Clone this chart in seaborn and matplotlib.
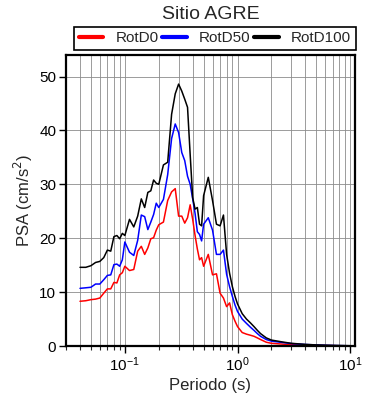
import numpy as np
import pandas as pd
import matplotlib
matplotlib.use("Agg")
import matplotlib.pyplot as plt
import seaborn as sns
from matplotlib.lines import Line2D

# periods (s) and PSA values (cm/s^2)
periodo = [0.04, 0.045, 0.05, 0.055, 0.06, 0.065, 0.07, 0.075, 0.08, 0.085, 0.09, 0.095,
           0.10, 0.11, 0.12, 0.13, 0.14, 0.15, 0.16, 0.17, 0.18, 0.19, 0.20, 0.22, 0.24,
           0.26, 0.28, 0.30, 0.32, 0.34, 0.36, 0.38, 0.40, 0.42, 0.44, 0.46, 0.48, 0.50,
           0.55, 0.60, 0.65, 0.70, 0.75, 0.80, 0.85, 0.90, 0.95, 1.0, 1.1, 1.2, 1.3, 1.4,
           1.5, 1.6, 1.8, 2.0, 2.5, 3.0, 4.0, 5.0, 6.0, 7.5, 10.0]

rotd0 = [8.3, 8.4, 8.6, 8.7, 8.9, 9.8, 10.6, 10.6, 11.8, 11.7, 13.2, 13.6,
         14.8, 14.0, 14.2, 17.6, 18.5, 17.0, 18.2, 19.9, 20.1, 21.5, 22.5, 23.0, 27.0,
         28.6, 29.2, 24.1, 24.1, 22.8, 23.8, 26.2, 23.5, 20.5, 18.0, 16.0, 16.4, 14.8,
         17.0, 13.2, 13.4, 9.8, 8.9, 7.3, 8.0, 5.8, 4.6, 3.6, 2.5, 2.2, 2.0, 1.8,
         1.5, 1.2, 0.7, 0.5, 0.35, 0.25, 0.15, 0.1, 0.08, 0.05, 0.03]

rotd50 = [10.7, 10.8, 10.9, 11.5, 11.5, 12.3, 13.1, 13.2, 15.1, 15.2, 14.8, 16.0,
          19.3, 17.4, 16.8, 19.6, 24.3, 24.0, 21.6, 23.0, 24.4, 26.5, 25.7, 27.2, 31.8,
          38.5, 41.2, 39.6, 35.9, 34.4, 31.5, 30.0, 27.3, 24.6, 21.2, 20.7, 19.5, 22.6,
          23.8, 21.5, 17.0, 17.0, 17.8, 13.3, 11.0, 9.2, 7.6, 6.4, 5.0, 4.2, 3.5, 2.9,
          2.3, 1.8, 1.2, 0.9, 0.65, 0.45, 0.28, 0.2, 0.13, 0.08, 0.04]

rotd100 = [14.6, 14.6, 14.9, 15.5, 15.7, 16.4, 17.8, 17.6, 20.3, 20.5, 19.9, 20.9,
           20.5, 23.5, 22.1, 24.1, 27.3, 25.7, 28.5, 28.8, 30.8, 30.2, 30.0, 33.6, 34.1,
           43.0, 46.8, 48.6, 47.3, 45.8, 44.3, 35.5, 27.5, 25.4, 25.7, 22.6, 22.3, 27.9,
           31.3, 27.0, 22.6, 22.3, 24.3, 17.0, 13.5, 11.0, 9.2, 7.8, 6.0, 5.0, 4.3, 3.6,
           2.9, 2.3, 1.5, 1.1, 0.75, 0.5, 0.3, 0.2, 0.15, 0.1, 0.05]

df = pd.DataFrame({"Periodo": periodo, "RotD0": rotd0, "RotD50": rotd50, "RotD100": rotd100})
long = df.melt(id_vars="Periodo", var_name="comp", value_name="PSA")

sns.set_style("ticks")
plt.rcParams["font.family"] = ["Liberation Sans", "DejaVu Sans"]

fig = plt.figure(figsize=(3.9, 4.0), dpi=100)
ax = fig.add_axes([0.169, 0.135, 0.741, 0.7275])

sns.lineplot(data=long, x="Periodo", y="PSA", hue="comp",
             palette={"RotD0": "red", "RotD50": "blue", "RotD100": "black"},
             linewidth=1.1, ax=ax, legend=False)

ax.set_xscale("log")
ax.set_xlim(0.03, 11)
ax.set_ylim(0, 54)
ax.set_yticks([0, 10, 20, 30, 40, 50])
ax.grid(True, which="both", axis="x", color="#8c8c8c", linewidth=0.6)
ax.grid(True, which="major", axis="y", color="#8c8c8c", linewidth=0.6)
ax.set_axisbelow(True)

for s in ax.spines.values():
    s.set_linewidth(1.6)
    s.set_color("black")
ax.tick_params(which="major", direction="out", length=5, width=1, labelsize=11,
               colors="black", pad=2)
ax.tick_params(which="minor", direction="out", length=3, width=0.8)

ax.set_xlabel("Periodo (s)", fontsize=12, labelpad=3)
ax.set_ylabel("PSA (cm/s$^2$)", fontsize=12, labelpad=3)

handles = [Line2D([], [], color=c, linewidth=3) for c in ["red", "blue", "black"]]
leg = ax.legend(handles, ["RotD0", "RotD50", "RotD100"], ncol=3, loc="lower left",
                bbox_to_anchor=(0.028, 1.017, 0.975, 0.079), mode="expand",
                borderaxespad=0, fancybox=False, edgecolor="black", framealpha=1,
                fontsize=11, handlelength=1.6, borderpad=0.3, columnspacing=1.0,
                handletextpad=0.8)
leg.get_frame().set_linewidth(1.2)

fig.text(0.54, 0.963, "Sitio AGRE", ha="center", va="center", fontsize=14)

plt.savefig("out.png", dpi=100)
